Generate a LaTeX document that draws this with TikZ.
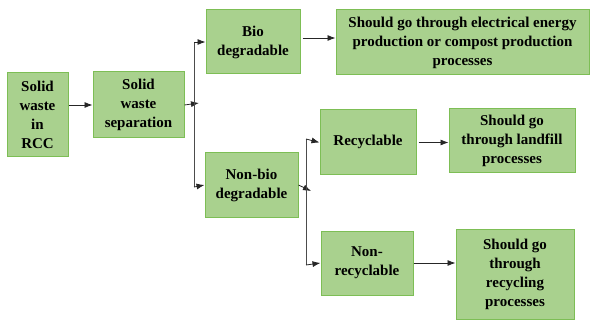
\documentclass[tikz,border=0pt]{standalone}
\usepackage{fontspec}
\setmainfont{Liberation Serif}[BoldFont={Liberation Serif Bold}]
\newfontfamily\tnrfont{Liberation Serif}[BoldFont={Liberation Serif Bold}]
\usetikzlibrary{arrows.meta,calc}
\definecolor{boxfill}{HTML}{A9D18E}
\definecolor{boxline}{HTML}{7DBE55}
\tikzset{
  box/.style={draw=boxline, line width=1pt, fill=boxfill, inner sep=0pt,
    align=center, font=\tnrfont\fontsize{15}{19}\selectfont\bfseries},
  arr/.style={draw=black!85, line width=0.8pt, -{Latex[length=8pt,width=6pt]}},
  ln/.style={draw=black!70, line width=0.8pt}
}
\newcommand{\bx}[6]{\node[box, minimum width=#4pt, minimum height=#5pt] (#1) at (#2,#3) {#6};}
\begin{document}
\begin{tikzpicture}[x=1pt,y=-1pt]
\useasboundingbox (0,0) rectangle (590,321);
\bx{b1}{37.5}{115}{61}{84}{Solid\\waste\\in\\RCC}
\bx{b2}{138.5}{105}{91}{66}{Solid\\waste\\separation}
\bx{b3}{253}{42}{94}{64}{Bio\\degradable}
\bx{b4}{462.5}{42.5}{253}{65}{Should go through electrical energy\\production or compost production\\processes}
\bx{b5}{251.5}{185}{93}{64}{Non-bio\\degradable}
\bx{b6}{368}{142.5}{96}{65}{\raisebox{4pt}{Recyclable}}
\bx{b7}{512}{141}{126}{64}{Should go\\through landfill\\processes}
\bx{b8}{367}{263}{92}{64}{Non-\\recyclable}
\bx{b9}{515}{274}{118}{90}{Should go\\through\\recycling\\processes}
\coordinate (j1t) at (194,42);
\coordinate (j1b) at (194,187);
\coordinate (j1m) at (199,103);
\coordinate (j2t) at (306,139);
\coordinate (j2b) at (306,265);
\coordinate (j2m) at (311,191);
\draw[arr] (b1.east |- b2.west) -- (b2.west);
\draw[arr] (b2.east) -- (j1m);
\draw[ln] (j1t) -- (j1b);
\draw[arr] (j1t) -- (b3.west);
\draw[arr] (j1b) -- (b5.west);
\draw[arr, shorten <=2pt] ([yshift=4pt]b3.east) -- ([yshift=4pt]b3.east -| b4.west);
\draw[arr] (b5.east) -- (j2m);
\draw[ln] (j2t) -- (j2b);
\draw[arr] (j2t) -- (b6.west);
\draw[arr] (j2b) -- (b8.west);
\draw[arr, shorten <=2pt] (b6.east) -- (b6.east -| b7.west);
\draw[arr] (b8.east) -- (b8.east -| b9.west);
\end{tikzpicture}
\end{document}
